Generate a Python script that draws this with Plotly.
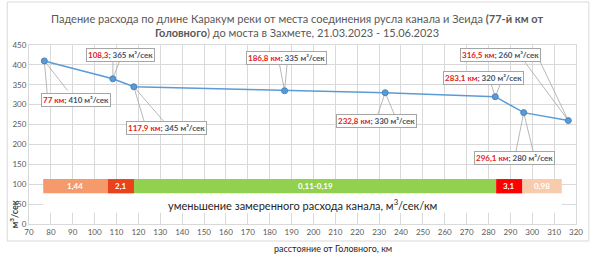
import plotly.graph_objects as go

# Data
km = [77, 108.3, 117.9, 186.8, 232.8, 283.1, 296.1, 316.5]
flow = [410, 365, 345, 335, 330, 320, 280, 260]
km_text = ["77 км", "108,3", "117,9 км", "186,8 км", "232,8 км", "283,1 км", "296,1 км", "316,5 км"]

seg_start = [76.5, 106, 118, 283.5, 295.5]
seg_end = [106, 118, 283.5, 295.5, 313.5]
seg_labels = ["1,44", "2,1", "0,11-0,19", "3,1", "0,98"]
seg_colors = ["#f59a6a", "#e8431a", "#92d050", "#ff0000", "#f8cbad"]

# label placement (data coords) and leader line end points
lab_pos = [(91.7, 311), (112.0, 424), (132.8, 241), (187.5, 417),
           (228.7, 258), (277.5, 366), (292.0, 166), (285.6, 424)]
leaders = [[(78.6, 311), (87.6, 336)],
           [(108.4, 412), (111.6, 412)],
           [(122.9, 253), (132.4, 253)],
           [(184.4, 404), (188.0, 404)],
           [(229.1, 271), (237.3, 271)],
           [(281.1, 354), (285.6, 354)],
           [(292.4, 178), (300.6, 178)],
           [(296.0, 412), (301.5, 432)]]

FONT = "Lato"
fig = go.Figure()

# white box behind caption
fig.add_trace(go.Bar(y=[52.5], x=[seg_end[-1] - seg_start[0]], base=[seg_start[0]],
                     width=[49], orientation="h", marker=dict(color="white", line=dict(width=0)),
                     hoverinfo="skip", showlegend=False))
# segments
fig.add_trace(go.Bar(y=[95] * len(seg_start), x=[e - s for s, e in zip(seg_start, seg_end)],
                     base=seg_start, width=[36] * len(seg_start), orientation="h",
                     marker=dict(color=seg_colors, line=dict(width=0)),
                     hoverinfo="skip", showlegend=False))
# line
fig.add_trace(go.Scatter(x=km, y=flow, mode="lines+markers",
                         line=dict(color="#5b9bd5", width=1.5),
                         marker=dict(symbol="circle", size=6, color="#5b9bd5",
                                     line=dict(color="#4a83bd", width=1)),
                         hoverinfo="skip", showlegend=False))

shapes = []
for (px, py), ends in zip(zip(km, flow), leaders):
    for ex, ey in ends:
        shapes.append(dict(type="line", xref="x", yref="y", x0=px, y0=py, x1=ex, y1=ey,
                           line=dict(color="#a6a6a6", width=0.8), layer="between"))
# outer frame
shapes.append(dict(type="rect", xref="paper", yref="paper",
                   x0=(3 - 25) / 553, x1=(591 - 25) / 553,
                   y0=(224 - 241) / 179, y1=(224 - 2) / 179,
                   line=dict(color="#d9d9d9", width=1), fillcolor="rgba(0,0,0,0)", layer="below"))

annotations = []
for (lx, ly), kt, f in zip(lab_pos, km_text, flow):
    annotations.append(dict(
        x=lx, y=ly, xref="x", yref="y", showarrow=False,
        text=f"<b><span style='color:#e0231c'>{kt}</span>"
             f"<span style='color:#44546a'>; {f} м³/сек</span></b>",
        font=dict(size=8, family=FONT), bgcolor="white",
        bordercolor="#a6a6a6", borderwidth=1, borderpad=1))

# segment labels
for s, e, t in zip(seg_start, seg_end, seg_labels):
    annotations.append(dict(x=(s + e) / 2, y=95, xref="x", yref="y", showarrow=False,
                            xanchor="center", yanchor="middle", text=f"<b>{t}</b>",
                            font=dict(size=8, family=FONT, color="white")))

annotations.append(dict(x=195, y=48, xref="x", yref="y", showarrow=False,
                        text="уменьшение замеренного расхода канала, м<sup>3</sup>/сек/км",
                        font=dict(size=11, family=FONT, color="#262626")))
annotations.append(dict(x=(296 - 25) / 553, y=(224 - 26) / 179, xref="paper", yref="paper",
                        showarrow=False, xanchor="center", yanchor="middle",
                        text="Падение расхода по длине Каракум реки от места соединения русла канала и Зеида <b>(77-й км от</b><br>"
                             "<b>Головного</b>) до моста в Захмете, 21.03.2023 - 15.06.2023",
                        font=dict(size=11, family=FONT, color="#595959")))
annotations.append(dict(x=(332 - 25) / 553, y=(224 - 248) / 179, xref="paper", yref="paper",
                        showarrow=False, xanchor="center", yanchor="middle",
                        text="расстояние от Головного, км",
                        font=dict(size=9, family=FONT, color="#262626")))
annotations.append(dict(x=(10 - 25) / 553, y=(224 - 214) / 179, xref="paper", yref="paper",
                        showarrow=False, textangle=-90, xanchor="center", yanchor="middle",
                        text="<b>м<sup>3</sup>/сек</b>",
                        font=dict(size=9, family=FONT, color="#404040")))

fig.update_layout(
    width=595, height=254, margin=dict(l=25, r=17, t=45, b=30),
    paper_bgcolor="white", plot_bgcolor="white", barmode="overlay",
    shapes=shapes, annotations=annotations, showlegend=False,
    font=dict(family=FONT),
    xaxis=dict(range=[70, 320], dtick=10, tick0=70, showgrid=True, gridcolor="#d9d9d9",
               gridwidth=1, showline=True, linecolor="#d9d9d9", mirror=True, zeroline=False,
               tickfont=dict(size=8, color="#595959", family=FONT), ticks=""),
    yaxis=dict(range=[0, 450], dtick=50, showgrid=True, gridcolor="#d9d9d9", gridwidth=1,
               showline=True, linecolor="#d9d9d9", mirror=True, zeroline=False,
               tickfont=dict(size=8, color="#595959", family=FONT), ticks=""),
)

fig.write_html("out.html")
